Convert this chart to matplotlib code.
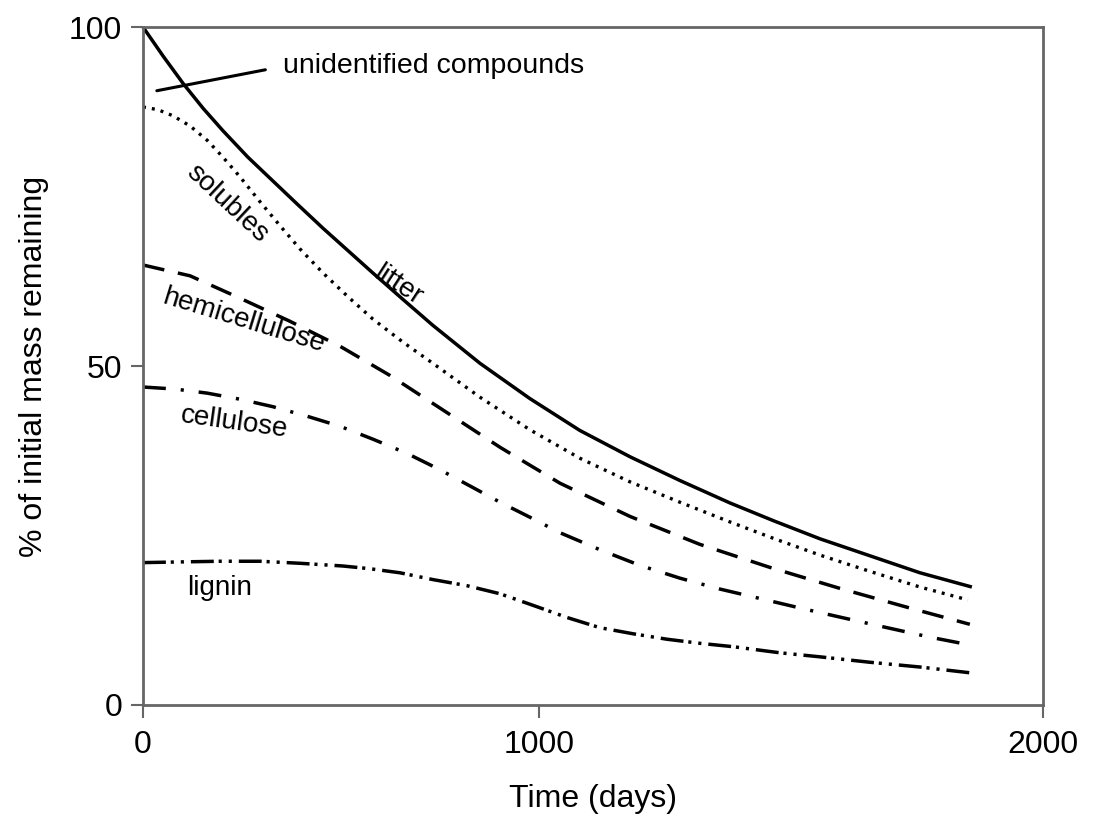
import numpy as np
import matplotlib
matplotlib.use("Agg")
import matplotlib.pyplot as plt

plt.rcParams["font.family"] = ["Liberation Sans", "DejaVu Sans"]

# values (days, % of initial mass remaining)
litterDays = [0, 51, 101, 152, 202, 265, 328, 391, 455, 518, 581, 657, 732,
              851, 977, 1081, 1181, 1280, 1379, 1468, 1558, 1657, 1756, 1859]
litter = [100, 95.7, 91.7, 88.0, 84.7, 80.8, 77.3, 73.8, 70.3, 67.0, 63.7, 59.8, 56.0,
          50.4, 45.2, 40.5, 36.6, 33.1, 29.8, 27.1, 24.5, 22.0, 19.5, 17.4]

solublesDays = [0, 38, 76, 119, 162, 202, 245, 296, 346, 396, 455, 518, 581,
                657, 732, 851, 977, 1081, 1181, 1280, 1379, 1468, 1558, 1657, 1756, 1851]
solubles = [88.2, 87.8, 86.9, 85.4, 83.3, 80.8, 77.9, 74.2, 70.7, 67.3, 63.7, 60.2, 56.9,
            53.5, 50.4, 45.4, 40.6, 36.4, 32.9, 29.9, 27.0, 24.5, 22.1, 19.7, 17.4, 15.5]

hemiDays = [0, 119, 245, 371, 498, 624, 750, 902, 1042, 1181, 1319, 1458, 1597, 1736, 1855]
hemicellulose = [64.9, 63.3, 60.0, 56.6, 52.9, 48.6, 43.8, 38.0, 32.7, 27.8, 23.7, 20.3,
                 17.2, 14.3, 11.9]

celluloseDays = [0, 81, 162, 245, 328, 414, 498, 581, 667, 750, 826, 902, 977,
                 1042, 1121, 1200, 1280, 1359, 1439, 1524, 1607, 1691, 1776, 1859]
cellulose = [46.9, 46.6, 46.0, 45.1, 44.0, 42.6, 41.1, 39.2, 37.1, 34.7, 32.3, 29.9, 27.7,
             25.4, 22.9, 20.6, 18.7, 17.1, 15.7, 14.2, 12.8, 11.4, 10.0, 8.8]

ligninDays = [0, 93, 194, 296, 397, 505, 573, 649, 732, 818, 902, 985, 1056, 1121,
              1187, 1254, 1319, 1385, 1478, 1558, 1657, 1756, 1861]
lignin = [21.0, 21.1, 21.2, 21.2, 20.9, 20.5, 20.1, 19.5, 18.5, 17.6, 16.4, 14.7, 12.9, 11.4,
          10.5, 9.7, 9.1, 8.6, 7.7, 7.1, 6.3, 5.6, 4.7]

xTicks = [0, 1000, 2000]
yTicks = [0, 50, 100]

# the printed x axis is not evenly spaced: 1000 sits at 44% of the width
axisDays = [0, 1000, 2000]
axisFrac = [0, 0.44, 1.0]

def forward(x):
    return np.interp(x, axisDays, axisFrac)

def inverse(f):
    return np.interp(f, axisFrac, axisDays)

fig = plt.figure(figsize=(10.93, 8.21), dpi=100)
ax = fig.add_axes([0.1308, 0.1413, 0.8234, 0.8258])
ax.set_xscale("function", functions=(forward, inverse))

lw = 2.5
ax.plot(litterDays, litter, color="black", lw=lw, solid_capstyle="butt",
        solid_joinstyle="round", clip_on=False)
ax.plot(solublesDays, solubles, color="black", lw=2.4, linestyle=(0, (0.9, 1.8)), clip_on=False)
ax.plot(hemiDays, hemicellulose, color="black", lw=lw, linestyle=(0, (6.3, 4)), clip_on=False)
ax.plot(celluloseDays, cellulose, color="black", lw=lw,
        linestyle=(0, (6.6, 4.3, 0.9, 4.3)), clip_on=False)
ax.plot(ligninDays, lignin, color="black", lw=lw,
        linestyle=(0, (6.6, 1.4, 0.9, 2, 0.9, 2)), clip_on=False)

ax.set_xlim(0, 2000)
ax.set_ylim(0, 100)
ax.set_xticks(xTicks)
ax.set_yticks(yTicks)
ax.set_xticklabels([str(t) for t in xTicks])
ax.set_yticklabels([str(t) for t in yTicks])

for side in ["left", "right", "top", "bottom"]:
    ax.spines[side].set_color("#666666")
    ax.spines[side].set_linewidth(2)
ax.tick_params(axis="both", direction="out", length=9, width=1.5, color="#666666", labelsize=23)
ax.tick_params(axis="x", pad=9)
ax.tick_params(axis="y", pad=6)

ax.set_xlabel("Time (days)", fontsize=23, labelpad=17)
ax.set_ylabel("% of initial mass remaining", fontsize=23, labelpad=14)

labelSize = 20
ax.annotate("unidentified compounds", xy=(35, 90.6), xytext=(354, 94.2),
            fontsize=20.5, ha="left", va="center",
            arrowprops=dict(arrowstyle="-", color="black", lw=2.2,
                            relpos=(0, 0.5), shrinkA=11, shrinkB=0))
ax.text(212, 74.0, "solubles", fontsize=labelSize, rotation=-43, ha="center", va="center",
        rotation_mode="anchor")
ax.text(643, 61.9, "litter", fontsize=labelSize, rotation=-33, ha="center", va="center",
        rotation_mode="anchor")
ax.text(255, 56.6, "hemicellulose", fontsize=labelSize, rotation=-17, ha="center", va="center",
        rotation_mode="anchor")
ax.text(230, 41.6, "cellulose", fontsize=labelSize, rotation=-8, ha="center", va="center",
        rotation_mode="anchor")
ax.text(194, 17.3, "lignin", fontsize=labelSize, ha="center", va="center")

fig.savefig("out.png", dpi=100)
